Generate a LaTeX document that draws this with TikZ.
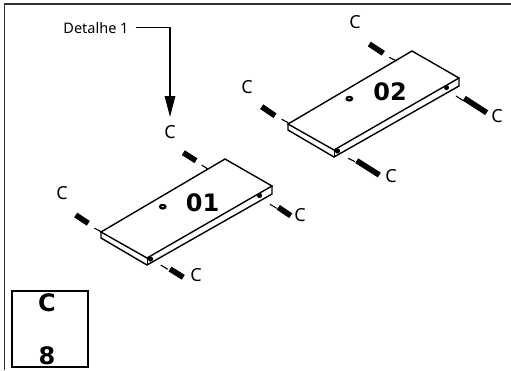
\documentclass[tikz,border=0pt]{standalone}
\usepackage{fontspec}
\setmainfont{Noto Sans}
\newfontfamily\boldface{DejaVu Sans Bold}
\usetikzlibrary{arrows.meta,shapes.geometric}
\newcommand{\drawthick}{\draw[line width=1.4pt,line join=miter]}
\newcommand{\drawpeg}[8]{
    \draw[line width=1.1pt] (#1,#2)--(#3,#4);
    \draw[line width=5.6pt] (#5,#6)--(#7,#8);
}
\newcommand{\drawpanel}[2]{
  \begin{scope}[shift={(#1,#2)}]
    \drawthick (101,232)--(225,159)--(272,186)--(147,258)--cycle;
    \drawthick (101,232)--(101,238)--(147,265)--(272,194)--(272,186);
    \draw[line width=.8pt] (147,258)--(147,265);
    \fill (150.5,259) circle (2.6pt);
    \fill (259.5,195.5) circle (2.6pt);
  \end{scope}
}
\tikzset{
  letter/.style={font=\fontsize{18}{18}\selectfont,inner sep=0pt},
  panelname/.style={font=\fontsize{24}{24}\boldface,inner sep=0pt},
  hole/.style={draw,line width=2.2pt,ellipse,minimum width=5.5pt,minimum height=3.6pt,inner sep=0pt}
}
\begin{document}
\begin{tikzpicture}[x=1pt,y=-1pt]
\useasboundingbox (0,0) rectangle (511,370);
% frame
\draw[line width=1.7pt,black!80] (4.5,370)--(4.5,4.2)--(511,4.2);
% panels
\drawpanel{0}{0}
\drawpanel{187}{-108}
\node[hole] (hole1) at (162.7,206.7) {};
\node[hole] (hole2) at (349.3,98.7) {};
\node[panelname] (name1) at (202.5,203) {01};
\node[panelname] (name2) at (390,92) {02};
% pegs of 01
\drawpeg{208.3}{169.3}{201.7}{165}{196}{160.7}{183.3}{152.7}
\drawpeg{101}{231.7}{94.3}{228}{88.3}{223.3}{75.7}{215}
\drawpeg{160.7}{265}{167.7}{269.3}{170}{269}{183.3}{277.3}
\drawpeg{270}{204.3}{276.7}{208.3}{278.3}{207.3}{290.7}{215.7}
% pegs of 02
\drawpeg{396.7}{61}{389.3}{57.3}{383.3}{53.3}{369.3}{44}
\drawpeg{288.3}{122.7}{281.7}{119.3}{275}{115.7}{261.7}{106.7}
\drawpeg{348.3}{158.3}{355}{161.7}{356.7}{160.7}{379.3}{175}
\drawpeg{456}{96}{463.3}{100.7}{464.3}{98.3}{486.7}{112.7}
% letters
\node[letter] (c1) at (170,132.5) {C};
\node[letter] (c2) at (62,193) {C};
\node[letter] (c3) at (196,275) {C};
\node[letter] (c4) at (300,215) {C};
\node[letter] (c5) at (355,22) {C};
\node[letter] (c6) at (247,87) {C};
\node[letter] (c7) at (391,176) {C};
\node[letter] (c8) at (497,116) {C};
% detail
\node[font=\fontsize{14.5}{15}\selectfont,inner sep=0pt] (detail) at (96,28) {Detalhe 1};
\coordinate (detailtip) at (170,117);
\draw[line width=1.4pt,-{Triangle[length=21pt,width=10.5pt]}] ([xshift=7pt,yshift=.7pt]detail.east)-|(detailtip);
% box
\node[draw,line width=1.4pt,minimum size=76pt,inner sep=0pt] (box) at (50,329) {};
\node[panelname] (boxc) at (47,303) {C};
\node[panelname] (box8) at (47,356) {8};
\end{tikzpicture}
\end{document}
